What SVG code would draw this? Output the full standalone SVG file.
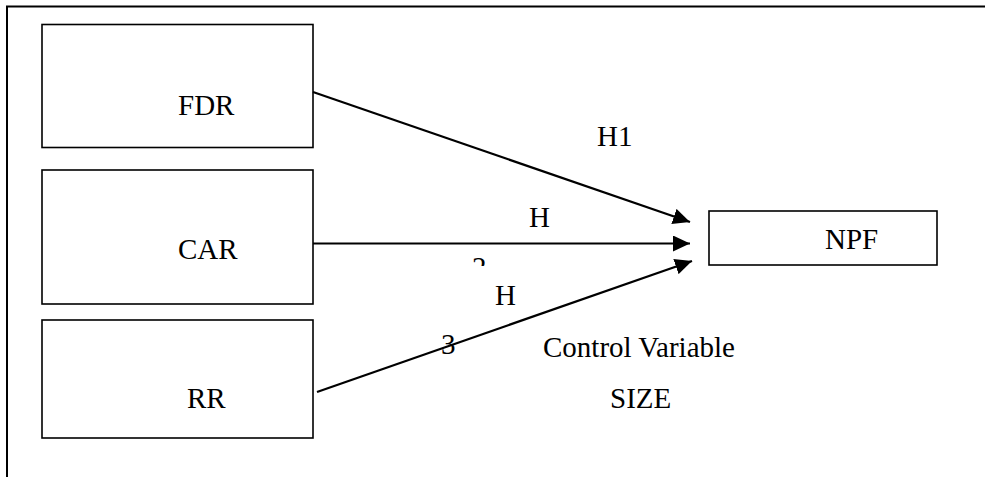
<svg xmlns="http://www.w3.org/2000/svg" width="985" height="477" viewBox="0 0 985 477">
  <style>
    .box { fill: #ffffff; stroke: #000000; stroke-width: 1.6; }
    .frame { stroke: #000000; stroke-width: 2; fill: none; }
    .link { stroke: #000000; stroke-width: 2.2; fill: none; marker-end: url(#head); }
    text { font-family: "Liberation Serif", "Times New Roman", serif; font-size: 29px; fill: #000000; }
  </style>
  <defs>
    <marker id="head" markerUnits="userSpaceOnUse" markerWidth="18" markerHeight="16" refX="17" refY="8" orient="auto">
      <path d="M0,0 L17,8 L0,16 Z" fill="#000000"/>
    </marker>
    <clipPath id="cut2">
      <rect x="460" y="240" width="40" height="26"/>
    </clipPath>
  </defs>
  <rect width="985" height="477" fill="#ffffff"/>

  <!-- outer frame (top and left edges) -->
  <path class="frame" d="M7,477 L7,6.5 L985,6.5"/>

  <g id="node-fdr">
    <rect class="box" x="42" y="24.5" width="271" height="123"/>
    <text x="178" y="115">FDR</text>
  </g>
  <g id="node-car">
    <rect class="box" x="42" y="170" width="271" height="134"/>
    <text x="178" y="259">CAR</text>
  </g>
  <g id="node-rr">
    <rect class="box" x="42" y="320" width="271" height="118"/>
    <text x="187" y="408">RR</text>
  </g>
  <g id="node-npf">
    <rect class="box" x="709" y="211" width="228" height="54"/>
    <text x="825" y="249">NPF</text>
  </g>

  <g id="connectors">
    <line class="link" x1="313" y1="92" x2="690" y2="222"/>
    <line class="link" x1="313" y1="243.5" x2="690" y2="243.5"/>
    <line class="link" x1="317" y1="392" x2="692" y2="261"/>
  </g>

  <g id="labels">
    <text x="597" y="146">H1</text>
    <text x="529" y="227">H</text>
    <text x="472" y="277" clip-path="url(#cut2)">2</text>
    <text x="495" y="305">H</text>
    <text x="441" y="354">3</text>
    <text x="543" y="357">Control Variable</text>
    <text x="610" y="408">SIZE</text>
  </g>
</svg>
